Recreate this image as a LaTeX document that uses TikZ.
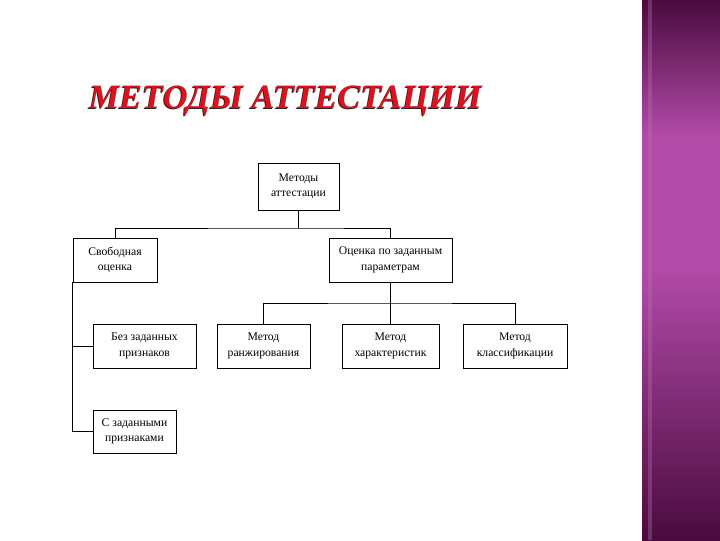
\documentclass[tikz,border=0pt]{standalone}
\usepackage{fontspec}
\setmainfont{Liberation Serif}
\usetikzlibrary{positioning}

\definecolor{bandtop}{HTML}{4A0B3E}
\definecolor{bandmid}{HTML}{B24AA8}
\definecolor{titlered}{HTML}{E0101C}

\begin{document}
\begin{tikzpicture}[x=0.025cm, y=-0.025cm]
% Define the node styles
\tikzstyle{box} = [draw, rectangle, line width=0.6pt, align=center, inner sep=1pt,
  font=\fontsize{8.3}{11}\selectfont, minimum height=1.1cm]
\tikzstyle{link} = [line width=0.55pt]

% Page and right band
\useasboundingbox (0,0) rectangle (720,540);
\fill[white] (0,0) rectangle (720,540);
\shade[top color=bandtop, bottom color=bandmid, middle color=bandmid]
  (642,0) rectangle (720,270);
\shade[top color=bandmid, bottom color=bandtop] (642,270) rectangle (720,540);
\fill[bandmid!80!white, opacity=0.35] (648,0) rectangle (652,540);

% Title
\node[font=\fontsize{24.3}{29}\selectfont\bfseries\itshape, text=black!85] (shadow) at (284.5,102) {МЕТОДЫ АТТЕСТАЦИИ};
\node[font=\fontsize{24.3}{29}\selectfont\bfseries\itshape, text=titlered] (title) at (285.5,101) {МЕТОДЫ АТТЕСТАЦИИ};

% Define the nodes
\node[box, minimum width=2.025cm, minimum height=1.175cm] (top) at (298.5,186.5) {Методы\\аттестации};
\node[box, minimum width=2.1cm] (free) at (115,260) {Свободная\\оценка};
\node[box, minimum width=3.075cm] (param) at (390.5,260) {Оценка по заданным\\параметрам};
\node[box, minimum width=2.325cm] (rank) at (263.5,346) {Метод\\ранжирования};
\node[box, minimum width=2.425cm] (char) at (390.5,346) {Метод\\характеристик};
\node[box, minimum width=2.6cm] (class) at (515,346) {Метод\\классификации};
\node[box, minimum width=2.575cm] (nosign) at (144.5,346) {Без заданных\\признаков};
\node[box, minimum width=2.075cm, minimum height=1.075cm] (withsign) at (134.5,431.5) {С заданными\\признаками};

\coordinate (j1) at (298.5,228);
\coordinate (j2) at (390.5,303);

% Define the connections
\draw[link] (top) -- (j1);
\draw[link] (free.north) |- (j1) -| (param.north);
\draw[link] (param) -- (char);
\draw[link] (rank.north) |- (j2) -| (class.north);
\draw[link] (free.south west) |- (nosign.west);
\draw[link] (free.south west) |- (withsign.west);

\end{tikzpicture}
\end{document}
